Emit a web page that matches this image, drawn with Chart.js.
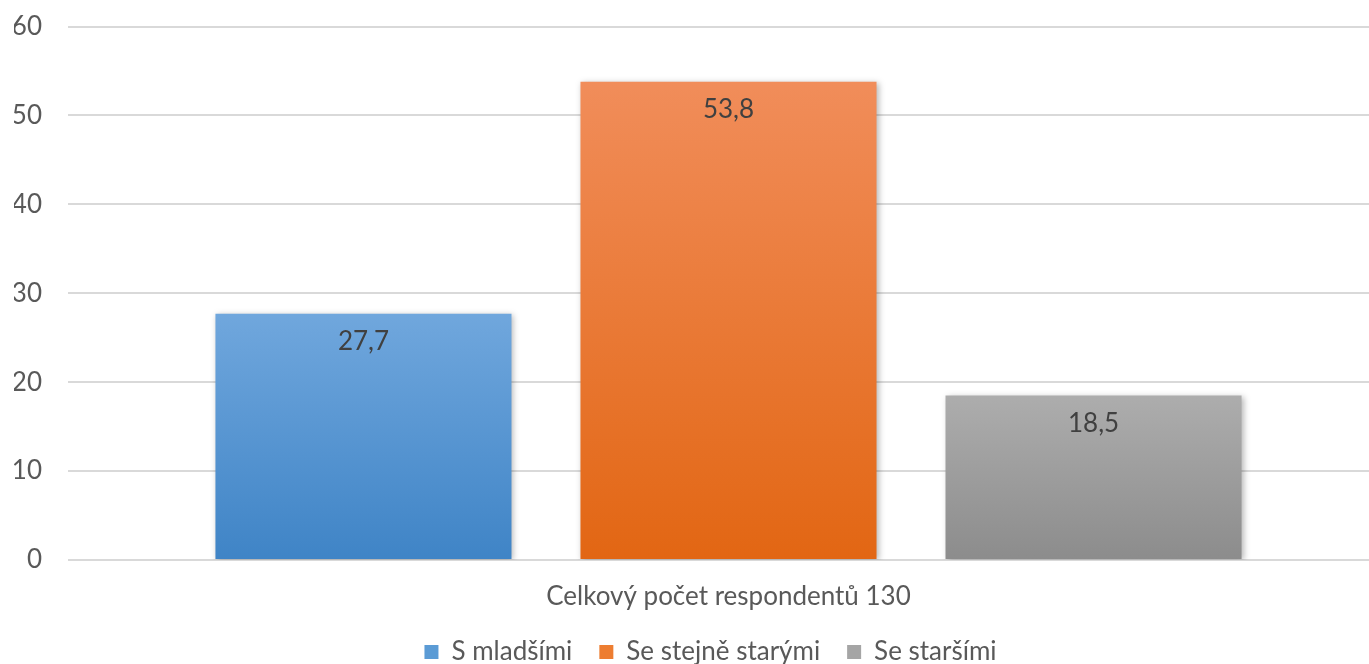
<!DOCTYPE html>
<html>
<head>
<meta charset="utf-8">
<script src="https://cdn.jsdelivr.net/npm/chart.js@4/dist/chart.umd.min.js"></script>
<style>
  html, body { margin: 0; padding: 0; background: #fff; overflow: hidden; }
  #wrap { width: 1389px; height: 690px; position: relative; margin-top: -15px; }
</style>
</head>
<body>
<div id="wrap"><canvas id="c"></canvas></div>
<script>
// Category and series values
const categories = ['Celkový počet respondentů 130'];
const seriesNames = ['S mladšími', 'Se stejně starými', 'Se staršími'];
const youngerValues = [27.7];
const sameAgeValues = [53.8];
const olderValues = [18.5];
const yTicks = [0, 10, 20, 30, 40, 50, 60];

// Gradient stops (top, bottom) and solid legend colour per series
const palette = [
  { top: '#70a7dd', bottom: '#3f84c6', solid: '#5b9bd5' },
  { top: '#f18d5a', bottom: '#e26613', solid: '#ed7d31' },
  { top: '#adadad', bottom: '#8c8c8c', solid: '#a5a5a5' }
];

const FONT = 'Lato, "Liberation Sans", sans-serif';
const FONT_SIZE = 26;

function barGradient(idx) {
  return (context) => {
    const chart = context.chart;
    const y = chart.scales && chart.scales.y;
    if (!y || !chart.chartArea) return palette[idx].solid;
    const v = context.raw ?? 0;
    const top = y.getPixelForValue(v);
    const bottom = y.getPixelForValue(0);
    if (!isFinite(top) || !isFinite(bottom) || top === bottom) return palette[idx].solid;
    const g = chart.ctx.createLinearGradient(0, top, 0, bottom);
    g.addColorStop(0, palette[idx].top);
    g.addColorStop(1, palette[idx].bottom);
    return g;
  };
}

// Soft shadow behind the bars
const barShadow = {
  id: 'barShadow',
  beforeDatasetsDraw(chart) {
    const ctx = chart.ctx;
    ctx.save();
    ctx.shadowColor = 'rgba(0,0,0,0.28)';
    ctx.shadowBlur = 6;
    ctx.shadowOffsetX = 2;
    ctx.shadowOffsetY = 1;
  },
  afterDatasetsDraw(chart) {
    chart.ctx.restore();
  }
};

// Value labels inside the top of each bar
const valueLabels = {
  id: 'valueLabels',
  afterDatasetsDraw(chart) {
    const ctx = chart.ctx;
    ctx.save();
    ctx.font = FONT_SIZE + 'px ' + FONT;
    ctx.fillStyle = '#404040';
    ctx.textAlign = 'center';
    ctx.textBaseline = 'middle';
    chart.data.datasets.forEach((ds, i) => {
      const meta = chart.getDatasetMeta(i);
      meta.data.forEach((bar, j) => {
        const v = ds.data[j];
        ctx.fillText(v.toFixed(1).replace('.', ','), bar.x, bar.y + 28);
      });
    });
    ctx.restore();
  }
};

// Nudge the legend horizontally
const legendShift = {
  id: 'legendShift',
  afterLayout(chart) {
    const lg = chart.legend;
    if (lg) { lg.left += 9; lg.right += 9; }
  }
};

const data = {
  labels: categories,
  datasets: [
    { label: seriesNames[0], data: youngerValues, backgroundColor: barGradient(0) },
    { label: seriesNames[1], data: sameAgeValues, backgroundColor: barGradient(1) },
    { label: seriesNames[2], data: olderValues, backgroundColor: barGradient(2) }
  ]
};

new Chart(document.getElementById('c'), {
  type: 'bar',
  data,
  plugins: [barShadow, valueLabels, legendShift],
  options: {
    responsive: true,
    maintainAspectRatio: false,
    animation: false,
    layout: { padding: { left: 14, right: 0, top: 13, bottom: 0 } },
    datasets: {
      bar: { categoryPercentage: 0.829, barPercentage: 0.811 }
    },
    scales: {
      x: {
        grid: { display: false, drawTicks: false },
        border: { display: false },
        ticks: { color: '#595959', font: { family: FONT, size: FONT_SIZE }, padding: 21 },
        afterFit(scale) { scale.height = 52; }
      },
      y: {
        min: 0,
        max: 60,
        afterBuildTicks(scale) { scale.ticks = yTicks.map(v => ({ value: v })); },
        grid: { color: '#d9d9d9', lineWidth: 2, drawTicks: false },
        border: { display: false },
        ticks: { color: '#595959', font: { family: FONT, size: FONT_SIZE }, padding: 26 },
        afterFit(scale) { scale.width = 54; }
      }
    },
    plugins: {
      tooltip: { enabled: false },
      legend: {
        position: 'bottom',
        labels: {
          color: '#595959',
          font: { family: FONT, size: FONT_SIZE },
          boxWidth: 14,
          boxHeight: 14,
          padding: 27,
          generateLabels(chart) {
            return chart.data.datasets.map((ds, i) => ({
              text: ds.label,
              fillStyle: palette[i].solid,
              strokeStyle: palette[i].solid,
              lineWidth: 0,
              hidden: false,
              datasetIndex: i,
              fontColor: '#595959'
            }));
          }
        }
      }
    }
  }
});
</script>
</body>
</html>
